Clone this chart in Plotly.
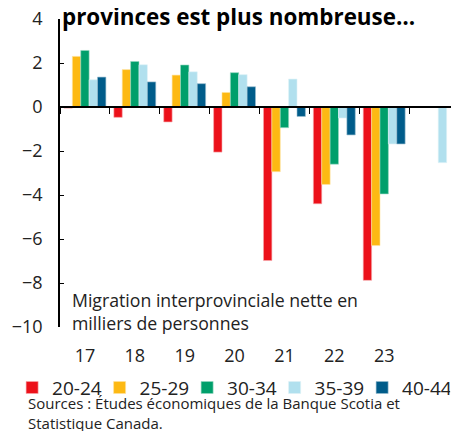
import plotly.graph_objects as go

categories = ["2017", "2018", "2019", "2020", "2021", "2022", "2023", "2024"]
tick_labels = ["17", "18", "19", "20", "21", "22", "23", ""]

series_names = ["20-24", "25-29", "30-34", "35-39", "40-44"]
age_20_24 = [-0.05, -0.47, -0.68, -2.05, -6.98, -4.4, -7.88, None]
age_25_29 = [2.3, 1.7, 1.45, 0.66, -2.94, -3.52, -6.3, None]
age_30_34 = [2.57, 2.07, 1.91, 1.56, -0.94, -2.6, -3.95, None]
age_35_39 = [1.24, 1.92, 1.6, 1.47, 1.27, -0.5, -1.68, -2.53]
age_40_44 = [1.36, 1.14, 1.06, 0.92, -0.43, -1.27, -1.68, None]

colors = ["#EC111A", "#FDB913", "#009F6B", "#B1E0EE", "#005C8A"]
edge_colors = ["#F7A9AC", "#FEE3A0", "#99D9C3", "#DDF1F7", "#99BDD0"]

FONT = "Open Sans"
TXT = "#222222"

fig = go.Figure()
for name, vals, col, ecol in zip(series_names,
                                 [age_20_24, age_25_29, age_30_34, age_35_39, age_40_44],
                                 colors, edge_colors):
    fig.add_trace(go.Bar(x=categories, y=vals, name=name,
                         marker=dict(color=col, line=dict(color=ecol, width=0.6)),
                         xaxis="x", yaxis="y"))

# helper trace for the zero-line category axis (boundary ticks)
fig.add_trace(go.Scatter(x=categories, y=[0] * len(categories), mode="markers",
                         marker=dict(opacity=0), showlegend=False,
                         hoverinfo="skip", xaxis="x2", yaxis="y"))

y_min, y_max = -10, 4

# page body has an 8px default margin, so the figure is sized to fit the window
fig.update_layout(
    width=451, height=423,
    margin=dict(l=52, r=0, t=11, b=104, autoexpand=False),
    paper_bgcolor="white", plot_bgcolor="white",
    font=dict(family=FONT, size=17, color=TXT),
    barmode="group", bargap=0.16, bargroupgap=0,
    showlegend=True,
    legend=dict(orientation="h", x=-0.12, xanchor="left", xref="paper",
                y=-0.197, yanchor="middle",
                font=dict(family=FONT, size=19, color=TXT),
                itemwidth=30, entrywidth=42.5, traceorder="normal",
                bgcolor="rgba(0,0,0,0)", borderwidth=0),
    xaxis=dict(type="category", categoryorder="array", categoryarray=categories,
               tickmode="array", tickvals=categories, ticktext=tick_labels,
               showline=False, ticks="", showgrid=False, zeroline=False,
               ticklabelstandoff=16, tickfont=dict(size=18, color=TXT),
               tickangle=0, automargin=False),
    xaxis2=dict(type="category", categoryorder="array", categoryarray=categories,
                overlaying="x", matches="x", anchor="free",
                position=(0 - y_min) / (y_max - y_min),
                showline=True, linecolor="black", linewidth=1.5,
                ticks="outside", tickson="boundaries", ticklen=6, tickwidth=1,
                tickcolor="black", showticklabels=False, showgrid=False,
                zeroline=False, automargin=False),
    yaxis=dict(range=[y_min, y_max], dtick=2, tick0=0,
               showline=True, linecolor="black", linewidth=1.5,
               ticks="inside", ticklen=4, tickcolor="black", tickwidth=1,
               showgrid=False, zeroline=False, automargin=False,
               ticklabeloverflow="allow",
               ticklabelstandoff=12, tickfont=dict(size=18, color=TXT)),
    annotations=[
        dict(text="<b>provinces est plus nombreuse…</b>", xref="paper", yref="paper",
             x=0, y=1, xanchor="left", yanchor="middle", xshift=0, yshift=3,
             showarrow=False, font=dict(family=FONT, size=22.4, color="black")),
        dict(text="Migration interprovinciale nette en<br>milliers de personnes",
             xref="paper", yref="paper", x=0.024, y=0.051,
             xanchor="left", yanchor="middle", align="left", showarrow=False,
             font=dict(family=FONT, size=17.7, color=TXT)),
        dict(text="Sources : Études économiques de la Banque Scotia et<br>Statistique Canada.",
             xref="paper", yref="paper", x=-0.085, y=-0.28,
             xanchor="left", yanchor="middle", align="left", showarrow=False,
             font=dict(family=FONT, size=15, color=TXT)),
    ],
)

fig.write_html("out.html")
